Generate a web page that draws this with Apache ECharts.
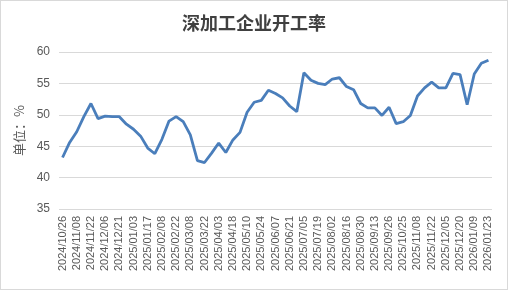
<!DOCTYPE html>
<html>
<head>
<meta charset="utf-8">
<script src="https://cdn.jsdelivr.net/npm/echarts@6/dist/echarts.min.js"></script>
<style>
html,body{margin:0;padding:0;background:#fff;}
#c{width:508px;height:290px;box-sizing:border-box;border:1px solid #d9d9d9;}
</style>
</head>
<body>
<div id="c"></div>
<script>
const titleText = '深加工企业开工率';
const yAxisName = '单位：%';
const dates = [
 '2024/10/26','2024/11/01','2024/11/08','2024/11/15','2024/11/22','2024/11/29','2024/12/06','2024/12/13',
 '2024/12/21','2024/12/27','2025/01/03','2025/01/10','2025/01/17','2025/01/24','2025/02/08','2025/02/14',
 '2025/02/22','2025/02/28','2025/03/08','2025/03/14','2025/03/22','2025/03/28','2025/04/03','2025/04/11',
 '2025/04/18','2025/04/25','2025/05/10','2025/05/16','2025/05/24','2025/05/30','2025/06/07','2025/06/13',
 '2025/06/21','2025/06/27','2025/07/05','2025/07/11','2025/07/19','2025/07/25','2025/08/02','2025/08/08',
 '2025/08/16','2025/08/22','2025/08/30','2025/09/05','2025/09/13','2025/09/19','2025/09/26','2025/10/17',
 '2025/10/25','2025/10/31','2025/11/08','2025/11/14','2025/11/22','2025/11/28','2025/12/05','2025/12/12',
 '2025/12/20','2025/12/31','2026/01/09','2026/01/16','2026/01/23'
];
const rates = [
 43.2,45.6,47.3,49.7,51.8,49.4,49.8,49.7,49.7,48.5,
 47.7,46.6,44.7,43.8,46.1,49.0,49.7,48.9,46.8,42.7,
 42.4,43.9,45.5,44.0,46.0,47.2,50.4,52.0,52.3,53.9,
 53.4,52.7,51.4,50.5,56.7,55.5,55.0,54.8,55.7,55.9,
 54.5,54.0,51.8,51.1,51.1,49.9,51.2,48.6,48.9,49.9,
 53.0,54.3,55.2,54.3,54.3,56.6,56.4,51.6,56.5,58.2,
 58.7
];
const yMin = 35, yMax = 60, yStep = 5;

const chart = echarts.init(document.getElementById('c'));
chart.setOption({
  animation: false,
  title: {
    text: titleText, left: 'center', top: 8,
    textStyle: {fontFamily: '"Noto Sans CJK SC"', fontSize: 18, fontWeight: 'bold', color: '#404040'}
  },
  grid: {left: 58, right: 15, top: 51, bottom: 80, containLabel: false},
  xAxis: {
    type: 'category', data: dates, boundaryGap: true,
    axisLine: {show: false}, axisTick: {show: false},
    axisLabel: {interval: 1, rotate: 90, fontSize: 11, color: '#595959', margin: 7,
      fontFamily: '"Liberation Sans", Arial, sans-serif'}
  },
  yAxis: {
    type: 'value', min: yMin, max: yMax, interval: yStep,
    name: yAxisName, nameLocation: 'middle', nameGap: 25,
    nameTextStyle: {fontFamily: '"Noto Sans CJK SC"', fontSize: 13, color: '#595959'},
    axisLine: {show: false}, axisTick: {show: false},
    axisLabel: {fontSize: 12, color: '#595959', margin: 9, fontFamily: '"Liberation Sans", Arial, sans-serif'},
    splitLine: {lineStyle: {color: '#d9d9d9', width: 1}}
  },
  series: [{
    type: 'line', data: rates, symbol: 'none', smooth: false,
    lineStyle: {color: '#4a7ebb', width: 2.8}
  }]
});
</script>
</body>
</html>
